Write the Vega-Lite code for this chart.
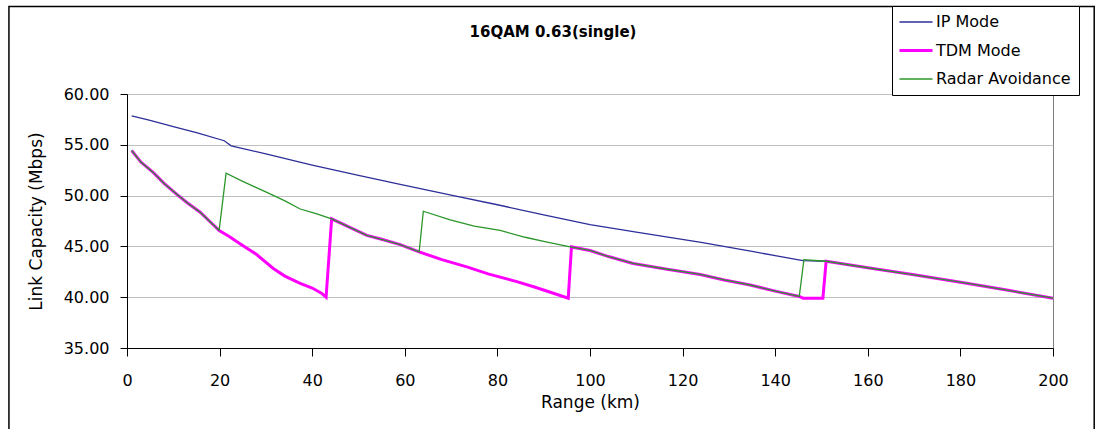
{
  "$schema": "https://vega.github.io/schema/vega-lite/v6.json",
  "autosize": "none",
  "width": 926,
  "height": 254,
  "padding": {"left": 127, "top": 94, "right": 43, "bottom": 81},
  "background": "white",
  "config": {
    "font": "DejaVu Sans",
    "view": {"stroke": "#808080", "strokeWidth": 1},
    "axis": {"labelColor": "black", "titleColor": "black", "domainColor": "black", "tickColor": "black", "labelFont": "DejaVu Sans", "titleFont": "DejaVu Sans", "titleFontWeight": "normal"},
    "legend": {
      "orient": "none", "legendX": 765, "legendY": -88,
      "strokeColor": "black", "fillColor": "white", "padding": 8,
      "symbolType": "stroke", "symbolSize": 1089, "symbolStrokeWidth": 1.3, "symbolOffset": 8,
      "labelFont": "DejaVu Sans", "labelFontSize": 16, "labelColor": "black",
      "labelOffset": 12, "rowPadding": 12.5
    }
  },
  "title": {
    "text": "16QAM 0.63(single)",
    "font": "DejaVu Sans",
    "fontSize": 15,
    "fontWeight": "bold",
    "color": "black",
    "anchor": "middle",
    "frame": "group",
    "dx": -37,
    "offset": -34
  },
  "datasets": {
    "lines": [
      {"km": 1, "mode": "IP Mode", "cap": 57.85},
      {"km": 5, "mode": "IP Mode", "cap": 57.4},
      {"km": 10, "mode": "IP Mode", "cap": 56.8},
      {"km": 15, "mode": "IP Mode", "cap": 56.2},
      {"km": 21, "mode": "IP Mode", "cap": 55.4},
      {"km": 22.5, "mode": "IP Mode", "cap": 54.9},
      {"km": 30, "mode": "IP Mode", "cap": 54.1},
      {"km": 40, "mode": "IP Mode", "cap": 53.0},
      {"km": 50, "mode": "IP Mode", "cap": 52.0},
      {"km": 59, "mode": "IP Mode", "cap": 51.1},
      {"km": 70, "mode": "IP Mode", "cap": 50.05},
      {"km": 80, "mode": "IP Mode", "cap": 49.1},
      {"km": 90, "mode": "IP Mode", "cap": 48.1},
      {"km": 100, "mode": "IP Mode", "cap": 47.15},
      {"km": 110, "mode": "IP Mode", "cap": 46.4},
      {"km": 124, "mode": "IP Mode", "cap": 45.4},
      {"km": 135, "mode": "IP Mode", "cap": 44.5},
      {"km": 146, "mode": "IP Mode", "cap": 43.6},
      {"km": 151, "mode": "IP Mode", "cap": 43.54},
      {"km": 160, "mode": "IP Mode", "cap": 42.9},
      {"km": 170, "mode": "IP Mode", "cap": 42.2},
      {"km": 181, "mode": "IP Mode", "cap": 41.4},
      {"km": 190, "mode": "IP Mode", "cap": 40.7},
      {"km": 200, "mode": "IP Mode", "cap": 39.9},

      {"km": 1, "mode": "TDM Mode", "cap": 54.44},
      {"km": 3, "mode": "TDM Mode", "cap": 53.3},
      {"km": 5.7, "mode": "TDM Mode", "cap": 52.26},
      {"km": 8, "mode": "TDM Mode", "cap": 51.2},
      {"km": 10.7, "mode": "TDM Mode", "cap": 50.15},
      {"km": 13, "mode": "TDM Mode", "cap": 49.3},
      {"km": 15.8, "mode": "TDM Mode", "cap": 48.36},
      {"km": 18, "mode": "TDM Mode", "cap": 47.4},
      {"km": 19.9, "mode": "TDM Mode", "cap": 46.57},
      {"km": 22, "mode": "TDM Mode", "cap": 46.0},
      {"km": 24.4, "mode": "TDM Mode", "cap": 45.27},
      {"km": 28, "mode": "TDM Mode", "cap": 44.2},
      {"km": 31.6, "mode": "TDM Mode", "cap": 42.83},
      {"km": 34, "mode": "TDM Mode", "cap": 42.1},
      {"km": 37.4, "mode": "TDM Mode", "cap": 41.37},
      {"km": 40, "mode": "TDM Mode", "cap": 40.9},
      {"km": 42, "mode": "TDM Mode", "cap": 40.4},
      {"km": 43, "mode": "TDM Mode", "cap": 40.0},
      {"km": 44.2, "mode": "TDM Mode", "cap": 47.71},
      {"km": 48, "mode": "TDM Mode", "cap": 46.9},
      {"km": 51.8, "mode": "TDM Mode", "cap": 46.08},
      {"km": 55, "mode": "TDM Mode", "cap": 45.7},
      {"km": 59, "mode": "TDM Mode", "cap": 45.17},
      {"km": 63.1, "mode": "TDM Mode", "cap": 44.46},
      {"km": 68, "mode": "TDM Mode", "cap": 43.7},
      {"km": 73.4, "mode": "TDM Mode", "cap": 42.99},
      {"km": 78, "mode": "TDM Mode", "cap": 42.3},
      {"km": 84.2, "mode": "TDM Mode", "cap": 41.53},
      {"km": 88, "mode": "TDM Mode", "cap": 41.0},
      {"km": 92.1, "mode": "TDM Mode", "cap": 40.39},
      {"km": 95.3, "mode": "TDM Mode", "cap": 39.9},
      {"km": 96, "mode": "TDM Mode", "cap": 44.95},
      {"km": 100, "mode": "TDM Mode", "cap": 44.6},
      {"km": 104, "mode": "TDM Mode", "cap": 44.0},
      {"km": 109.3, "mode": "TDM Mode", "cap": 43.32},
      {"km": 116, "mode": "TDM Mode", "cap": 42.8},
      {"km": 123.8, "mode": "TDM Mode", "cap": 42.24},
      {"km": 129, "mode": "TDM Mode", "cap": 41.7},
      {"km": 134.6, "mode": "TDM Mode", "cap": 41.2},
      {"km": 140, "mode": "TDM Mode", "cap": 40.6},
      {"km": 145.2, "mode": "TDM Mode", "cap": 40.07},
      {"km": 146, "mode": "TDM Mode", "cap": 39.9},
      {"km": 150.3, "mode": "TDM Mode", "cap": 39.9},
      {"km": 151, "mode": "TDM Mode", "cap": 43.54},
      {"km": 160, "mode": "TDM Mode", "cap": 42.9},
      {"km": 170, "mode": "TDM Mode", "cap": 42.2},
      {"km": 181, "mode": "TDM Mode", "cap": 41.4},
      {"km": 190, "mode": "TDM Mode", "cap": 40.7},
      {"km": 200, "mode": "TDM Mode", "cap": 39.9},

      {"km": 1, "mode": "Radar Avoidance", "cap": 54.44},
      {"km": 3, "mode": "Radar Avoidance", "cap": 53.3},
      {"km": 5.7, "mode": "Radar Avoidance", "cap": 52.26},
      {"km": 8, "mode": "Radar Avoidance", "cap": 51.2},
      {"km": 10.7, "mode": "Radar Avoidance", "cap": 50.15},
      {"km": 13, "mode": "Radar Avoidance", "cap": 49.3},
      {"km": 15.8, "mode": "Radar Avoidance", "cap": 48.36},
      {"km": 18, "mode": "Radar Avoidance", "cap": 47.4},
      {"km": 19.9, "mode": "Radar Avoidance", "cap": 46.57},
      {"km": 21.4, "mode": "Radar Avoidance", "cap": 52.2},
      {"km": 25, "mode": "Radar Avoidance", "cap": 51.4},
      {"km": 30.2, "mode": "Radar Avoidance", "cap": 50.31},
      {"km": 34, "mode": "Radar Avoidance", "cap": 49.5},
      {"km": 37.4, "mode": "Radar Avoidance", "cap": 48.68},
      {"km": 41, "mode": "Radar Avoidance", "cap": 48.2},
      {"km": 44.2, "mode": "Radar Avoidance", "cap": 47.71},
      {"km": 48, "mode": "Radar Avoidance", "cap": 46.9},
      {"km": 51.8, "mode": "Radar Avoidance", "cap": 46.08},
      {"km": 55, "mode": "Radar Avoidance", "cap": 45.7},
      {"km": 59, "mode": "Radar Avoidance", "cap": 45.17},
      {"km": 63.1, "mode": "Radar Avoidance", "cap": 44.46},
      {"km": 64, "mode": "Radar Avoidance", "cap": 48.46},
      {"km": 69.8, "mode": "Radar Avoidance", "cap": 47.6},
      {"km": 75, "mode": "Radar Avoidance", "cap": 47.0},
      {"km": 80.6, "mode": "Radar Avoidance", "cap": 46.57},
      {"km": 86, "mode": "Radar Avoidance", "cap": 45.9},
      {"km": 90, "mode": "Radar Avoidance", "cap": 45.5},
      {"km": 95.7, "mode": "Radar Avoidance", "cap": 44.95},
      {"km": 100, "mode": "Radar Avoidance", "cap": 44.6},
      {"km": 104, "mode": "Radar Avoidance", "cap": 44.0},
      {"km": 109.3, "mode": "Radar Avoidance", "cap": 43.32},
      {"km": 116, "mode": "Radar Avoidance", "cap": 42.8},
      {"km": 123.8, "mode": "Radar Avoidance", "cap": 42.24},
      {"km": 129, "mode": "Radar Avoidance", "cap": 41.7},
      {"km": 134.6, "mode": "Radar Avoidance", "cap": 41.2},
      {"km": 140, "mode": "Radar Avoidance", "cap": 40.6},
      {"km": 145.2, "mode": "Radar Avoidance", "cap": 40.07},
      {"km": 146.2, "mode": "Radar Avoidance", "cap": 43.7},
      {"km": 151, "mode": "Radar Avoidance", "cap": 43.54},
      {"km": 160, "mode": "Radar Avoidance", "cap": 42.9},
      {"km": 170, "mode": "Radar Avoidance", "cap": 42.2},
      {"km": 181, "mode": "Radar Avoidance", "cap": 41.4},
      {"km": 190, "mode": "Radar Avoidance", "cap": 40.7},
      {"km": 200, "mode": "Radar Avoidance", "cap": 39.9}
    ]
  },
  "layer": [
    {
      "data": {"values": [{}]},
      "mark": {"type": "rect", "filled": false, "stroke": "black", "strokeWidth": 1.5, "clip": false},
      "encoding": {
        "x": {"datum": -25.5, "type": "quantitative"},
        "x2": {"datum": 208.9},
        "y": {"datum": 68.6, "type": "quantitative"},
        "y2": {"datum": 25}
      }
    },
    {
      "data": {"name": "lines"},
      "mark": {"type": "line", "interpolate": "linear"},
      "encoding": {
        "x": {
          "field": "km", "type": "quantitative",
          "scale": {"domain": [0, 200], "nice": false, "zero": false},
          "axis": {"title": "Range (km)", "values": [0, 20, 40, 60, 80, 100, 120, 140, 160, 180, 200], "grid": false, "tickSize": 8, "labelFontSize": 16, "titleFontSize": 17, "labelPadding": 16, "titlePadding": 6, "labelFlush": false}
        },
        "y": {
          "field": "cap", "type": "quantitative",
          "scale": {"domain": [35, 60], "nice": false, "zero": false},
          "axis": {"title": "Link Capacity (Mbps)", "values": [35, 40, 45, 50, 55, 60], "format": ".2f", "grid": true, "gridColor": "#c0c0c0", "tickSize": 7, "labelFontSize": 16, "titleFontSize": 17, "labelPadding": 11, "titlePadding": 18}
        },
        "color": {
          "field": "mode", "type": "nominal",
          "scale": {"domain": ["IP Mode", "TDM Mode", "Radar Avoidance"], "range": ["#2e2e9a", "#ff00ff", "#2a962a"]},
          "legend": {
            "title": null,
            "symbolType": "stroke",
            "encode": {"symbols": {"update": {"strokeWidth": {"signal": "datum.value === 'TDM Mode' ? 3 : 1.3"}}}}
          }
        },
        "strokeWidth": {
          "condition": {"test": "datum.mode === 'TDM Mode'", "value": 3},
          "value": 1.3
        }
      }
    }
  ]
}
